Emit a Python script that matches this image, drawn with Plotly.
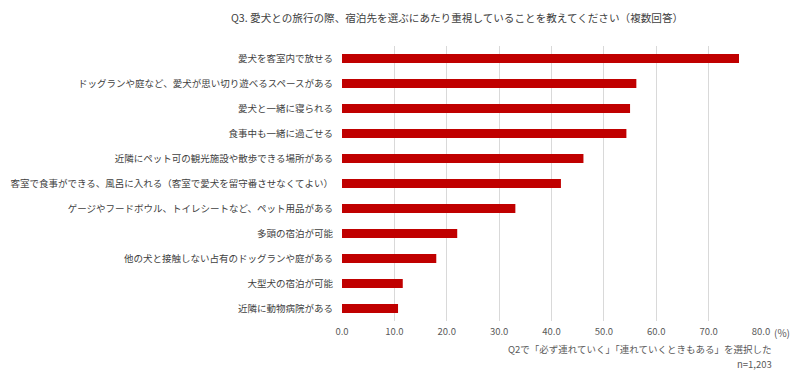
import plotly.graph_objects as go

categories = [
    "愛犬を客室内で放せる",
    "ドッグランや庭など、愛犬が思い切り遊べるスペースがある",
    "愛犬と一緒に寝られる",
    "食事中も一緒に過ごせる",
    "近隣にペット可の観光施設や散歩できる場所がある",
    "客室で食事ができる、風呂に入れる（客室で愛犬を留守番させなくてよい）",
    "ゲージやフードボウル、トイレシートなど、ペット用品がある",
    "多頭の宿泊が可能",
    "他の犬と接触しない占有のドッグランや庭がある",
    "大型犬の宿泊が可能",
    "近隣に動物病院がある",
]
values = [75.8, 56.2, 55.0, 54.3, 46.1, 41.8, 33.1, 22.0, 18.0, 11.6, 10.7]
tick_vals = [0, 10, 20, 30, 40, 50, 60, 70, 80]
tick_text = ["0.0", "10.0", "20.0", "30.0", "40.0", "50.0", "60.0", "70.0", "80.0"]
title_text = "Q3. 愛犬との旅行の際、宿泊先を選ぶにあたり重視していることを教えてください（複数回答）"
note_line1 = "Q2で「必ず連れていく」「連れていくときもある」を選択した"
note_line2 = "n=1,203"
FONT = "Noto Sans CJK JP"

fig = go.Figure(go.Bar(
    x=values, y=categories, orientation="h",
    marker=dict(color="#C00000", line=dict(width=0)),
    hoverinfo="x+y",
))

# page body has an 8px default margin, so the figure is sized 792x367
fig.update_layout(
    width=792, height=367,
    margin=dict(l=334, r=39, t=38, b=54),
    paper_bgcolor="white", plot_bgcolor="white",
    bargap=0.64,
    showlegend=False,
    font=dict(family=FONT, color="#404040", size=10),
    title=dict(text=title_text, x=0.567, xanchor="center", y=0.972, yanchor="middle",
               font=dict(family=FONT, size=10.6, color="#404040")),
)
fig.update_xaxes(
    range=[0, 80], tickvals=tick_vals, ticktext=tick_text, automargin=False,
    showgrid=True, gridcolor="#D9D9D9", gridwidth=1,
    zeroline=False, showline=False, ticks="", ticklen=0, ticklabelstandoff=3,
    tickfont=dict(size=9.5, color="#595959"),
)
fig.update_yaxes(
    autorange="reversed", showgrid=False, zeroline=False, showline=False,
    ticks="", ticklabelstandoff=8, automargin=False,
    tickfont=dict(size=9.5, color="#404040"),
)
fig.add_annotation(x=80, y=0, xref="x", yref="paper", text="(%)", showarrow=False,
                   xanchor="left", yanchor="top", xshift=11, yshift=-2,
                   font=dict(size=10, color="#595959"))
fig.add_annotation(x=1.032, y=-0.101, xref="paper", yref="paper", text=note_line1,
                   showarrow=False, xanchor="right", yanchor="middle", align="right",
                   font=dict(size=9.5, color="#595959"))
fig.add_annotation(x=1.032, y=-0.155, xref="paper", yref="paper", text=note_line2,
                   showarrow=False, xanchor="right", yanchor="middle", align="right",
                   font=dict(size=9.5, color="#595959"))

fig.write_html("out.html")
